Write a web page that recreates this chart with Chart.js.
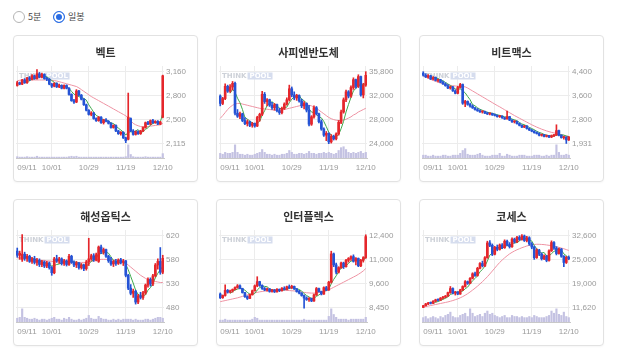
<!DOCTYPE html>
<html>
<head>
<meta charset="utf-8">
<script src="https://cdn.jsdelivr.net/npm/chart.js@4.4.1/dist/chart.umd.min.js"></script>
<style>
  body { margin: 0; background: #fff; width: 618px; height: 356px; overflow: hidden; position: relative;
         font-family: 'Noto Sans CJK KR', 'Noto Sans', sans-serif; }
  .rb { position: absolute; top: 11px; width: 10px; height: 10px; border: 1px solid #b5b5b5; border-radius: 50%; background: #fff; }
  .rb.on { border-color: #2a6de4; background: #2a6de4; box-shadow: inset 0 0 0 2px #fff; }
  .lbl { position: absolute; top: 10px; font-size: 9px; line-height: 13px; color: #444; }
  .card { position: absolute; width: 183px; height: 145px; border: 1px solid #e2e2e2; border-radius: 4px;
          background: #fff; box-shadow: 0 1px 2px rgba(0,0,0,0.04); }
  .card .ttl { position: absolute; left: 0; right: 0; top: 10px; text-align: center; font-size: 11px;
               line-height: 13px; font-weight: bold; color: #333; }
  .card canvas { position: absolute; left: -1px; top: -1px; }
</style>
</head>
<body>
<span class="rb" style="left:13px"></span><span class="lbl" style="left:28px">5분</span>
<span class="rb on" style="left:53px"></span><span class="lbl" style="left:68px">일봉</span>

<script>
// ===== 날짜 (거래일) =====
const dates = [
  '09/11','09/12','09/15','09/16','09/17','09/18','09/19','09/22','09/23','09/24','09/25','09/26','09/29','09/30',
  '10/01','10/02','10/10','10/13','10/14','10/15','10/16','10/17','10/20','10/21','10/22','10/23','10/24','10/27','10/28','10/29','10/30','10/31',
  '11/03','11/04','11/05','11/06','11/07','11/10','11/11','11/12','11/13','11/14','11/17','11/18','11/19','11/20','11/21','11/24','11/25','11/26','11/27','11/28',
  '12/01','12/02','12/03','12/04','12/05','12/08','12/09','12/10'
];
const xTickDates = ['09/11', '10/01', '10/29', '11/19', '12/10'];

// ===== 벡트 [시가, 고가, 저가, 종가] =====
const vectOHLC = [
  [2960,3020,2950,3000],[3000,3010,2970,2980],[2980,3050,2970,3040],[3040,3060,2990,3000],[3000,3080,2990,3070],
  [3070,3090,3030,3050],[3050,3120,3040,3100],[3100,3110,3050,3060],[3060,3190,3050,3130],[3130,3150,3070,3080],
  [3080,3140,3070,3120],[3120,3130,3050,3060],[3060,3080,3030,3050],[3050,3060,2970,2980],[2980,2990,2930,2950],
  [2950,3000,2940,2990],[2990,3000,2930,2940],[2940,2980,2930,2960],[2960,2970,2910,2920],[2920,2970,2910,2960],
  [2960,2970,2910,2920],[2920,2930,2820,2830],[2830,2840,2730,2740],[2740,2760,2700,2720],[2720,2900,2710,2880],
  [2880,2890,2810,2820],[2820,2830,2750,2760],[2760,2770,2670,2680],[2680,2690,2590,2600],[2600,2610,2530,2540],
  [2540,2580,2520,2560],[2560,2570,2470,2480],[2480,2490,2440,2450],[2450,2510,2440,2500],[2500,2510,2410,2420],
  [2420,2470,2400,2460],[2460,2480,2430,2440],[2440,2450,2400,2410],[2410,2420,2340,2350],[2350,2390,2340,2380],
  [2380,2390,2290,2300],[2300,2310,2250,2260],[2260,2290,2240,2280],[2280,2290,2190,2200],[2200,2210,2130,2160],
  [2180,2850,2170,2500],[2480,2490,2290,2300],[2300,2320,2240,2250],[2250,2300,2240,2290],[2290,2300,2250,2260],
  [2260,2310,2250,2300],[2300,2360,2290,2350],[2350,2430,2340,2420],[2420,2440,2390,2400],[2400,2460,2390,2450],
  [2450,2470,2410,2420],[2420,2450,2410,2440],[2440,2450,2390,2400],[2400,2440,2390,2430],[2500,3110,2490,3100]
];
const vectVol = [3,2,2,2,3,2,2,2,4,2,2,2,2,2,2,2,2,2,2,2,2,3,4,3,4,2,2,2,2,2,2,2,2,2,2,2,2,2,2,2,2,2,2,2,3,30,8,3,2,2,2,2,3,2,2,2,2,2,2,10];
const vectMA20 = [3030,3035,3040,3040,3040,3040,3040,3040,3040,3040,3040,3040,3040,3040,3035,3030,3025,3015,3005,2995,
  2985,2975,2965,2955,2945,2925,2900,2875,2850,2825,2800,2780,2760,2740,2720,2700,2680,2660,2640,2620,
  2600,2580,2560,2540,2520,2490,2450,2410,2390,2375,2365,2360,2360,2365,2370,2375,2380,2385,2390,2410];
const vectMA5 = [null,null,null,null,3018,3028,3052,3056,3082,3084,3098,3090,3088,3058,3032,3006,2982,2964,2952,2954,
  2940,2918,2874,2834,2818,2798,2784,2772,2748,2680,2628,2572,2526,2506,2482,2462,2454,2446,2416,2408,
  2376,2340,2314,2284,2240,2280,2288,2282,2300,2320,2280,2290,2324,2346,2384,2408,2426,2422,2428,2558];
const vectTicks = ['3,160', '2,800', '2,500', '2,115'];

// ===== 사피엔반도체 =====
const sapienOHLC = [
  [31800,32000,30200,30600],[30600,31600,30400,31400],[31400,33800,31200,33400],[33400,33600,32400,32600],[32600,33700,32400,33300],
  [33300,34200,32800,33900],[33900,34100,28700,29000],[29000,29600,28300,28500],[28500,29200,28100,28900],[28900,29000,27600,27800],
  [27800,28300,27100,27300],[27300,27900,26900,27600],[27600,27700,26800,27000],[27000,27500,26700,27300],[27300,27400,26700,26900],
  [26900,28500,26800,28300],[28300,29000,27700,28800],[28800,32600,28600,32100],[32100,32400,30600,30900],[30900,31400,30200,31200],
  [31200,31300,30100,30300],[30300,30800,29600,29900],[29900,30600,29500,30400],[30400,30500,29200,29400],[29400,29800,28800,29100],
  [29100,30000,28900,29800],[29800,30700,29600,30500],[30500,31500,30300,31200],[31200,33600,31000,33000],[33000,33300,31700,32000],
  [32000,32500,31200,31500],[31500,32100,31100,31900],[31900,32000,30800,31000],[31000,31300,29900,30200],[30200,30900,29700,30600],
  [30600,30700,29200,29500],[29500,30300,26900,27200],[27200,28600,27000,28400],[28400,30200,28200,29900],[29900,30100,28700,28900],
  [28900,29000,27400,27600],[27600,27900,26200,26400],[26400,26600,25200,25400],[25400,26000,24500,25700],[25700,25800,24000,24300],
  [24300,25500,24100,25200],[25200,25400,24600,24800],[24800,25800,24600,25600],[25600,27800,25400,27500],[27500,29500,27300,29200],
  [29200,31500,29000,31200],[31200,32800,30900,32500],[32500,32700,31500,31800],[31800,33500,31600,33200],[33200,34800,32900,34500],
  [34500,34600,33100,33400],[33400,35300,33200,35000],[35000,35100,31800,32000],[32000,33900,31500,33600],[33600,35800,33400,35200]
];
const sapienVol = [5,4,6,5,5,6,14,6,4,4,3,4,3,3,4,5,6,9,6,4,4,3,4,3,3,4,4,5,8,6,4,4,5,5,4,5,7,5,5,4,5,5,6,5,6,5,4,5,8,11,12,9,6,5,6,5,6,7,5,6];
const sapienMA20 = [28150,28600,29100,29600,30000,30300,30500,30600,30600,30500,30400,30300,30200,30100,30000,29900,29800,29750,29700,29650,
  29600,29550,29500,29500,29500,29550,29600,29700,29800,29900,30000,30100,30200,30300,30350,30350,30300,30200,30000,29800,
  29500,29200,28900,28600,28300,28100,27950,27850,27800,27800,27900,28000,28200,28400,28700,28900,29200,29400,29600,29800];
const sapienMA5 = [null,null,null,null,32260,32920,32440,31460,30720,29620,28300,28020,27720,27400,27220,27420,27660,28680,29400,30260,
  30660,30880,30540,30240,29820,29720,29840,30000,30720,31300,31640,31920,31880,31320,31040,30640,29700,29180,29120,28780,
  28400,28240,27640,26800,25880,25400,25080,25120,25480,26460,27660,29200,30440,31580,32640,33080,33580,33620,33700,33840];
const sapienTicks = ['35,800', '32,000', '28,000', '24,000'];

// ===== 비트맥스 =====
const bitmaxOHLC = [
  [4350,4400,4250,4280],[4280,4330,4200,4220],[4220,4300,4180,4260],[4260,4280,4130,4150],[4150,4230,4120,4200],
  [4200,4220,4080,4100],[4100,4150,4050,4120],[4120,4140,4020,4040],[4040,4080,3960,3980],[3980,4020,3900,3920],
  [3920,3960,3820,3840],[3840,3900,3800,3880],[3880,3900,3720,3740],[3740,3780,3640,3660],[3660,3900,3640,3860],
  [3860,4000,3840,3960],[3960,3980,3280,3320],[3320,3420,3200,3380],[3380,3400,3250,3280],[3280,3320,3180,3220],
  [3220,3260,3140,3160],[3160,3180,3080,3100],[3100,3140,3040,3060],[3060,3090,3000,3020],[3020,3060,2980,3040],
  [3040,3050,2960,2980],[2980,3010,2930,2950],[2950,2990,2920,2970],[2970,2980,2900,2920],[2920,2950,2880,2900],
  [2900,2920,2840,2860],[2860,2900,2830,2880],[2880,2890,2800,2820],[2820,2840,2760,2780],[2780,3050,2770,2860],
  [2860,2870,2720,2740],[2740,2760,2660,2680],[2680,2720,2640,2700],[2700,2710,2600,2620],[2620,2640,2540,2560],
  [2560,2580,2480,2500],[2500,2560,2480,2540],[2540,2550,2430,2450],[2450,2470,2380,2400],[2400,2420,2340,2360],
  [2360,2380,2290,2310],[2310,2340,2260,2280],[2280,2300,2200,2220],[2220,2260,2190,2240],[2240,2250,2160,2180],
  [2180,2230,2160,2210],[2210,2220,2140,2160],[2160,2230,2140,2200],[2200,2250,2170,2230],[2230,2580,2210,2380],
  [2380,2400,2200,2220],[2220,2240,2120,2140],[2140,2180,2090,2160],[2160,2170,1940,2060],[2060,2180,2040,2160]
];
const bitmaxVol = [3,3,2,2,3,2,2,2,3,3,2,2,3,3,3,5,8,10,4,3,3,3,4,5,3,2,2,2,3,3,3,5,2,2,4,3,2,2,2,3,3,3,2,2,2,3,3,3,2,2,3,2,3,3,14,6,3,3,4,3];
const bitmaxMA20 = [4250,4220,4180,4140,4100,4070,4040,4010,3990,3970,3950,3935,3920,3910,3900,3895,3890,3880,3840,3790,
  3740,3690,3640,3590,3540,3490,3440,3390,3340,3290,3240,3195,3145,3095,3045,2995,2945,2895,2850,2805,
  2760,2715,2670,2625,2580,2540,2500,2465,2430,2400,2370,2345,2320,2300,2280,2260,2240,2220,2200,2180];
const bitmaxMA5 = [null,null,null,null,4222,4186,4166,4122,4088,4032,3980,3928,3872,3808,3796,3812,3748,3676,3552,3440,
  3272,3228,3164,3112,3076,3040,3010,2992,2972,2948,2920,2902,2876,2852,2840,2816,2776,2752,2716,2660,
  2604,2584,2534,2490,2450,2412,2360,2318,2290,2250,2226,2202,2198,2196,2236,2238,2234,2226,2192,2172];
const bitmaxTicks = ['4,400', '3,600', '2,800', '1,931'];

// ===== 해성옵틱스 =====
const haesungOHLC = [
  [590,596,578,582],[582,590,574,586],[574,622,570,584],[584,588,572,576],[576,584,570,580],
  [580,582,568,570],[570,578,566,575],[575,580,565,568],[568,576,562,572],[572,575,560,564],
  [564,572,560,569],[569,571,558,561],[561,570,558,567],[567,569,555,558],[558,560,543,548],
  [548,578,546,575],[575,582,568,571],[571,578,566,575],[575,577,563,566],[566,574,562,571],
  [571,573,561,564],[564,584,562,580],[580,582,566,568],[568,571,560,563],[563,570,558,567],
  [567,568,555,558],[558,566,555,563],[563,565,552,556],[556,572,553,569],[569,615,562,575],
  [575,584,572,581],[581,585,570,573],[573,586,571,583],[570,600,568,598],[598,602,585,588],
  [588,596,584,593],[593,594,578,580],[580,582,568,571],[571,578,562,565],[565,572,560,570],
  [570,574,562,566],[566,575,564,573],[573,576,565,568],[568,574,562,571],[571,572,540,543],
  [543,545,515,518],[518,525,505,508],[508,516,500,512],[512,514,487,491],[491,506,488,503],
  [503,510,497,500],[500,512,496,509],[509,526,506,524],[524,538,520,535],[535,538,522,526],
  [526,545,523,542],[542,566,540,563],[563,575,555,570],[570,597,545,549],[549,582,546,576]
];
const haesungVol = [4,5,14,5,4,3,3,4,3,2,3,3,2,3,4,5,3,3,2,4,3,5,3,2,2,3,2,3,4,7,4,3,3,6,4,3,3,2,2,3,2,3,2,3,3,3,3,2,3,2,2,2,3,3,2,3,4,5,5,4];
const haesungMA20 = [577,577,576,576,575,575,574,574,573,573,572,572,571,571,570,570,570,569,569,569,
  569,569,568,568,568,568,568,568,568,569,570,571,572,573,574,574,574,574,574,573,
  573,572,571,570,567,563,559,555,551,547,543,540,537,535,533,532,531,530,529,529];
const haesungMA5 = [null,null,null,null,579,578,576,574,573,570,570,567,567,564,561,562,564,565,567,572,
  569,571,570,569,568,566,564,561,561,565,570,573,576,585,585,587,588,586,579,572,
  570,569,568,570,564,554,541,528,514,506,503,503,505,514,519,527,538,547,554,560];
const haesungTicks = ['620', '580', '530', '480'];

// ===== 인터플렉스 =====
const interflexOHLC = [
  [9200,9260,8950,9000],[9000,9150,8960,9120],[9120,9700,9080,9400],[9400,9450,9250,9300],[9300,9420,9260,9380],
  [9380,9480,9300,9450],[9450,9600,9420,9560],[9560,9720,9520,9650],[9650,9700,9480,9500],[9500,9520,9250,9280],
  [9280,9300,9020,9060],[9060,9100,8900,8960],[8960,9200,8940,9160],[9160,9420,9140,9380],[9380,9700,9360,9650],
  [9650,10150,9600,9880],[9880,9900,9620,9680],[9680,9700,9450,9500],[9500,9560,9380,9420],[9420,9520,9350,9480],
  [9480,9500,9300,9340],[9340,9460,9300,9420],[9420,9450,9280,9320],[9320,9500,9300,9460],[9460,9480,9330,9380],
  [9380,9560,9360,9520],[9520,9600,9420,9450],[9450,9640,9430,9600],[9600,9700,9500,9540],[9540,9680,9500,9620],
  [9620,9640,9450,9480],[9480,9500,9300,9340],[9340,9400,9200,9250],[9250,9280,9080,9120],[9120,9150,8420,8980],
  [8980,9050,8850,8900],[8900,9000,8800,8960],[8960,8980,8780,8820],[8820,9200,8800,9150],[9150,9560,9120,9500],
  [9500,9520,9300,9340],[9340,9360,9150,9200],[9200,9600,9180,9550],[9550,9620,9380,9420],[9420,9900,9400,9850],
  [9850,11550,9800,11400],[11400,11450,10700,10800],[10800,10900,10300,10400],[10400,10700,10350,10650],[10650,10950,10600,10900],
  [10900,10950,10600,10700],[10700,11100,10680,11050],[11050,11200,10950,11150],[11150,11300,11050,11250],[11250,11350,10950,11000],
  [11000,11200,10800,11150],[11150,11180,10700,10750],[10750,11100,10700,11050],[11050,11250,10950,11200],[11200,12450,11150,12350]
];
const interflexVol = [2,2,3,2,2,2,2,2,2,2,2,2,2,3,5,4,2,2,2,2,2,2,2,2,2,2,2,2,2,2,2,2,2,2,3,2,2,2,2,2,2,2,2,2,6,14,8,5,3,3,3,3,2,3,3,3,3,3,3,5];
const interflexMA20 = [8780,8810,8840,8870,8900,8930,8960,8990,9030,9070,9110,9150,9190,9230,9260,9290,9320,9340,9360,9380,
  9400,9410,9420,9420,9420,9420,9410,9400,9390,9380,9370,9350,9330,9310,9290,9270,9260,9250,9250,9260,
  9280,9310,9340,9380,9430,9500,9570,9640,9710,9780,9850,9920,9990,10060,10130,10200,10280,10370,10470,10600];
const interflexMA5 = [null,null,null,null,9240,9330,9420,9470,9510,9490,9410,9290,9190,9170,9240,9420,9550,9620,9620,9600,
  9480,9430,9400,9410,9390,9420,9430,9480,9500,9550,9540,9490,9450,9360,9230,9120,9040,8960,8970,9070,
  9150,9260,9350,9400,9470,9760,10000,10200,10420,10630,10690,10740,10890,11010,11030,11120,11060,11040,11030,11300];
const interflexTicks = ['12,400', '11,000', '9,600', '8,450'];

// ===== 코세스 =====
const kosesOHLC = [
  [11700,12300,11620,12200],[12200,12900,12100,12700],[12700,13200,12500,13000],[13000,13300,12700,12900],[12900,13700,12800,13500],
  [13500,14100,13300,13900],[13900,14200,13600,13800],[13800,14600,13700,14400],[14400,14900,14200,14700],[14700,15200,14500,15000],
  [15000,16200,14900,16000],[16000,17800,15800,17200],[17200,17400,15600,15900],[15900,16400,15300,16200],[16200,16300,15400,15600],
  [15600,17000,15500,16800],[16800,18000,16600,17800],[17800,19500,17600,19200],[19200,19400,18400,18700],[18700,20400,18600,20200],
  [20200,21800,20000,21500],[21500,22000,20700,21000],[21000,23400,20800,23100],[23100,24800,22900,24500],[24500,25200,23500,23800],
  [23800,26500,23600,26200],[26200,31000,26000,30500],[30500,31200,29400,29800],[29800,30200,26800,27200],[27200,29500,27000,29200],
  [29200,29900,28200,28600],[28600,30200,28400,29900],[29900,30300,28800,29100],[29100,31400,28900,31000],[31000,31300,29600,30000],
  [30000,30600,29000,29400],[29400,32000,29200,31600],[31600,31900,30400,30800],[30800,32400,30600,32100],[32100,32600,31200,31500],
  [31500,32900,31300,32500],[32500,32800,30900,31200],[31200,32400,30800,32000],[32000,32300,29800,30200],[30200,30600,28800,29300],
  [29300,29600,25700,26200],[26200,28800,26000,28400],[28400,28600,26800,27200],[27200,27600,25500,25900],[25900,27000,25600,26700],
  [26700,26900,25000,25400],[25400,28500,25200,28200],[28200,31100,28000,30600],[30600,30900,28600,29000],[29000,29400,27000,27400],
  [27400,29000,27200,28700],[28700,28900,26300,26600],[26600,26800,23600,24800],[24800,26600,24500,26300],[26300,26700,25600,25900]
];
const kosesVol = [4,5,3,4,5,4,3,5,4,6,7,9,5,4,4,6,7,8,5,12,8,5,6,7,5,8,10,7,8,6,5,4,5,6,4,4,6,5,5,4,5,4,4,5,4,6,5,4,4,4,5,6,10,8,12,7,6,9,5,4];
const kosesMA20 = [11800,11950,12100,12250,12400,12550,12700,12850,13000,13150,13300,13500,13700,13950,14200,14500,14850,15250,15700,16200,
  16750,17300,17900,18550,19200,19900,20650,21450,22300,23150,24000,24800,25500,26150,26750,27300,27750,28150,28500,28800,
  29100,29350,29600,29800,29950,30050,30100,30100,30050,30000,29900,29800,29700,29550,29400,29200,29000,28800,28550,28300];
const kosesMA5 = [null,null,null,null,12860,13200,13420,13700,14060,14360,14780,15460,15760,16060,16180,16340,16460,17120,17620,18540,
  19480,20120,20900,22060,22780,23720,25200,26960,27500,28580,29220,29020,28800,29560,29720,29880,30220,30560,30580,31080,
  31700,31620,31860,31480,31040,29780,28820,28060,27540,27720,26720,26680,27360,28040,28320,28780,28460,27300,26760,26060];
const kosesTicks = ['32,600', '25,000', '19,000', '11,620'];

// ===== 카드 목록 =====
const cards = [
  { name: '벡트',        ohlc: vectOHLC,      vol: vectVol,      ma20: vectMA20,      ma5: vectMA5,      ticks: vectTicks,      left: 13,  top: 35 },
  { name: '사피엔반도체', ohlc: sapienOHLC,    vol: sapienVol,    ma20: sapienMA20,    ma5: sapienMA5,    ticks: sapienTicks,    left: 216, top: 35 },
  { name: '비트맥스',     ohlc: bitmaxOHLC,    vol: bitmaxVol,    ma20: bitmaxMA20,    ma5: bitmaxMA5,    ticks: bitmaxTicks,    left: 419, top: 35 },
  { name: '해성옵틱스',   ohlc: haesungOHLC,   vol: haesungVol,   ma20: haesungMA20,   ma5: haesungMA5,   ticks: haesungTicks,   left: 13,  top: 199 },
  { name: '인터플렉스',   ohlc: interflexOHLC, vol: interflexVol, ma20: interflexMA20, ma5: interflexMA5, ticks: interflexTicks, left: 216, top: 199 },
  { name: '코세스',       ohlc: kosesOHLC,     vol: kosesVol,     ma20: kosesMA20,     ma5: kosesMA5,     ticks: kosesTicks,     left: 419, top: 199 }
];

const RED = '#e5262b';
const BLUE = '#2553d5';
const VOL_COLOR = '#c4c2e2';
const MA20_COLOR = '#ee93a3';
const MA5_COLOR = '#3fa94d';
const LABEL_FONT = "'Liberation Sans', Arial, sans-serif";

// 차트 영역 (카드 기준 px)
const AREA_TOP = 31, AREA_BOTTOM = 123, HI_Y = 36.7, LO_Y = 108.7;

// 워터마크
const watermark = {
  id: 'watermark',
  beforeDatasetsDraw(chart) {
    const { ctx, chartArea: a } = chart;
    ctx.save();
    ctx.font = "bold 7px 'DejaVu Sans'";
    ctx.textBaseline = 'middle';
    ctx.fillStyle = '#cdd1d8';
    const x = a.left + 3, y = a.top + 10;
    ctx.fillText('THINK', x, y);
    const w = ctx.measureText('THINK').width;
    ctx.fillStyle = '#d6ddee';
    ctx.fillRect(x + w + 1, y - 3.5, 25, 7);
    ctx.fillStyle = '#ffffff';
    ctx.fillText('POOL', x + w + 3, y);
    ctx.restore();
  }
};

// x축 날짜 라벨 (첫 라벨은 왼쪽 정렬)
const xLabels = {
  id: 'xLabels',
  afterDraw(chart) {
    const s = chart.scales.x;
    const ctx = chart.ctx;
    ctx.save();
    ctx.font = '8px ' + LABEL_FONT;
    ctx.fillStyle = '#9a9a9a';
    ctx.textBaseline = 'middle';
    s.ticks.forEach((t, i) => {
      ctx.textAlign = i === 0 ? 'left' : 'center';
      ctx.fillText(dates[t.value], s.getPixelForTick(i), chart.chartArea.bottom + 9.5);
    });
    ctx.restore();
  }
};

function makeCard(c) {
  const card = document.createElement('div');
  card.className = 'card';
  card.style.left = c.left + 'px';
  card.style.top = c.top + 'px';
  const ttl = document.createElement('div');
  ttl.className = 'ttl';
  ttl.textContent = c.name;
  const cv = document.createElement('canvas');
  cv.width = 185;
  cv.height = 147;
  card.appendChild(cv);
  card.appendChild(ttl);
  document.body.appendChild(card);

  const hi = Number(c.ticks[0].replace(/,/g, ''));
  const lo = Number(c.ticks[3].replace(/,/g, ''));
  const u = (hi - lo) / (LO_Y - HI_Y);
  const colors = c.ohlc.map(d => d[3] >= d[0] ? RED : BLUE);

  new Chart(cv, {
    type: 'bar',
    data: {
      labels: dates,
      datasets: [
        { data: c.ohlc.map(d => [d[0], d[3]]), backgroundColor: colors, barThickness: 2, minBarLength: 1, grouped: false, order: 0 },
        { data: c.ohlc.map(d => [d[2], d[1]]), backgroundColor: colors, barThickness: 1, grouped: false, order: 1 },
        { type: 'line', data: c.ma5, borderColor: MA5_COLOR, borderWidth: 1, pointRadius: 0, tension: 0, order: 2 },
        { type: 'line', data: c.ma20, borderColor: MA20_COLOR, borderWidth: 1, pointRadius: 0, tension: 0, order: 3 },
        { data: c.vol, yAxisID: 'yv', backgroundColor: VOL_COLOR, barThickness: 1.5, grouped: false, order: 4 }
      ]
    },
    options: {
      responsive: false,
      animation: false,
      devicePixelRatio: 1,
      layout: { padding: { left: 3, right: 0, top: AREA_TOP, bottom: 147 - AREA_BOTTOM } },
      plugins: { legend: { display: false }, tooltip: { enabled: false } },
      scales: {
        x: {
          offset: true,
          grid: { offset: false, color: '#ececec', drawTicks: false },
          border: { color: '#c8c8c8' },
          ticks: { display: false, autoSkip: false },
          afterBuildTicks: s => { s.ticks = s.ticks.filter(t => xTickDates.includes(dates[t.value])); }
        },
        y: {
          position: 'right',
          min: lo - (AREA_BOTTOM - LO_Y) * u,
          max: hi + (HI_Y - AREA_TOP) * u,
          grid: { color: '#ececec', drawTicks: false },
          border: { display: false },
          afterBuildTicks: s => { s.ticks = [0, 1, 2, 3].map(k => ({ value: lo + k * (hi - lo) / 3 })); },
          afterFit: s => { s.width = 34; },
          ticks: {
            padding: 2,
            color: '#9a9a9a',
            font: { size: 8, family: LABEL_FONT },
            callback: (v, i) => c.ticks[3 - i]
          }
        },
        yv: { display: false, min: 0, max: Math.max(...c.vol) * 7 }
      }
    },
    plugins: [watermark, xLabels]
  });
}

cards.forEach(makeCard);
</script>
</body>
</html>
